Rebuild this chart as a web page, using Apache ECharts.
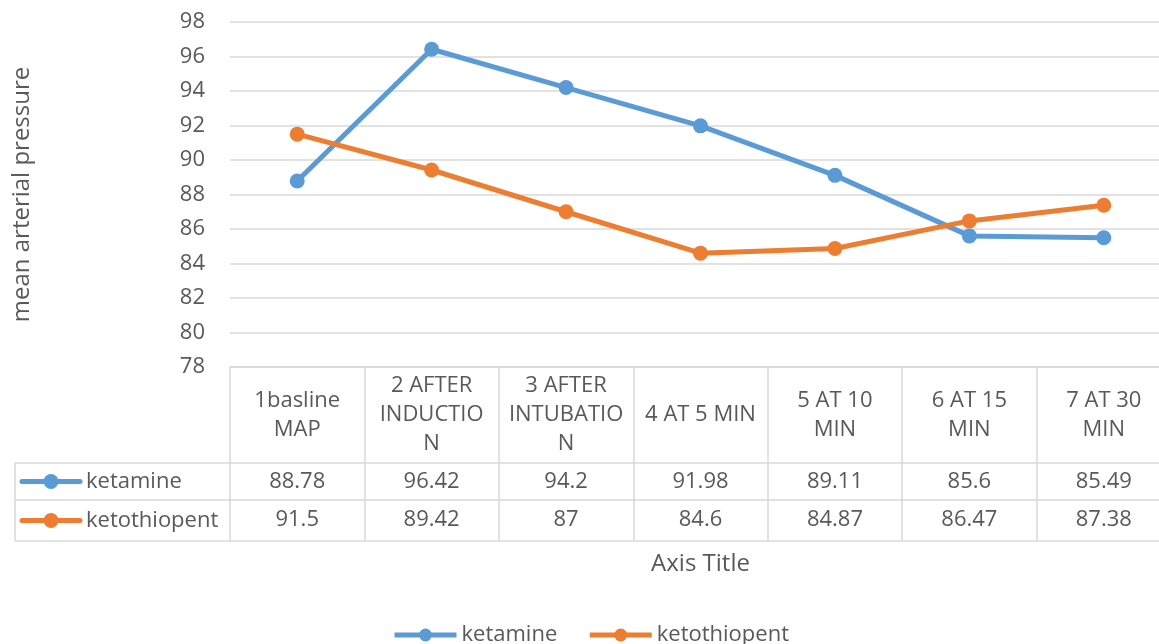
<!DOCTYPE html>
<html><head><meta charset="utf-8">
<script src="https://cdn.jsdelivr.net/npm/echarts@6/dist/echarts.min.js"></script>
<style>html,body{margin:0;padding:0;background:#fff;overflow:hidden}#c{width:1159px;height:644px}</style>
</head><body><div id="c"></div>
<script>
const categories = ['1basline\nMAP', '2 AFTER\nINDUCTIO\nN', '3 AFTER\nINTUBATIO\nN', '4 AT 5 MIN', '5 AT 10\nMIN', '6 AT 15\nMIN', '7 AT 30\nMIN'];
const seriesNames = ['ketamine', 'ketothiopent'];
const ketamine = [88.78, 96.42, 94.2, 91.98, 89.11, 85.6, 85.49];
const ketothiopent = [91.5, 89.42, 87, 84.6, 84.87, 86.47, 87.38];
const yTicks = [78, 80, 82, 84, 86, 88, 90, 92, 94, 96, 98];

const FONT = 'Open Sans';
const TXT = '#595959';
const GRID = '#D9D9D9';
const COLORS = ['#5B9BD5', '#ED7D31'];
const L = 230, T = 22, W = 941, AX = 367;
const ROW1 = 463, ROW2 = 500, ROW3 = 541, TL = 15;
const FS = 22, TFS = 24;

const chart = echarts.init(document.getElementById('c'));
const lbl = {fontFamily: FONT, fontSize: FS, color: TXT};

function rowHeader(name, color, yc) {
  return {type: 'group', children: [
    {type: 'line', shape: {x1: 22, y1: yc, x2: 80, y2: yc}, style: {stroke: color, lineWidth: 5, lineCap: 'round'}},
    {type: 'circle', shape: {cx: 51, cy: yc, r: 7.5}, style: {fill: color}},
    {type: 'text', x: 86, y: yc, style: {text: name, fontFamily: FONT, fontSize: FS, fill: TXT, verticalAlign: 'middle'}}
  ]};
}
function hline(y, x1, x2) {
  return {type: 'line', shape: {x1: x1, y1: y, x2: x2, y2: y}, style: {stroke: GRID, lineWidth: 1.5}};
}

chart.setOption({
  animation: false,
  grid: {left: L, top: T, width: W, height: AX - T, outerBoundsMode: 'none', containLabel: false},
  xAxis: [
    {type: 'category', data: categories, boundaryGap: true,
     axisLine: {show: true, lineStyle: {color: GRID, width: 1.5}},
     axisTick: {show: true, interval: 0, length: ROW3 - AX, lineStyle: {color: GRID, width: 1.5}},
     axisLabel: Object.assign({interval: 0, lineHeight: 29, verticalAlign: 'middle', margin: 48, hideOverlap: false}, lbl),
     name: 'Axis Title', nameLocation: 'middle', nameGap: 185,
     nameTextStyle: {fontFamily: FONT, fontSize: TFS, color: TXT}},
    {type: 'category', data: ketamine.map(String), position: 'bottom', offset: ROW1 - AX,
     axisLine: {show: true, lineStyle: {color: GRID, width: 1.5}}, axisTick: {show: false},
     axisLabel: Object.assign({interval: 0, verticalAlign: 'middle', margin: 19}, lbl)},
    {type: 'category', data: ketothiopent.map(String), position: 'bottom', offset: ROW2 - AX,
     axisLine: {show: true, lineStyle: {color: GRID, width: 1.5}}, axisTick: {show: false},
     axisLabel: Object.assign({interval: 0, verticalAlign: 'middle', margin: 20}, lbl)},
    {type: 'category', data: categories.map(() => ''), position: 'bottom', offset: ROW3 - AX,
     axisLine: {show: true, lineStyle: {color: GRID, width: 1.5}}, axisTick: {show: false},
     axisLabel: {show: false}}
  ],
  yAxis: {type: 'value', min: yTicks[0], max: yTicks[yTicks.length - 1], interval: 2,
    axisLine: {show: false}, axisTick: {show: false},
    splitLine: {lineStyle: {color: GRID, width: 1.5}},
    axisLabel: Object.assign({margin: 25}, lbl),
    name: 'mean arterial pressure', nameLocation: 'middle', nameGap: 196,
    nameTextStyle: {fontFamily: FONT, fontSize: TFS, color: TXT}},
  legend: {top: 624, left: 392, padding: 0, itemGap: 30,
    itemWidth: 62, itemHeight: 16, textStyle: {fontFamily: FONT, fontSize: FS, color: TXT},
    lineStyle: {width: 5}, data: seriesNames},
  series: [
    {name: seriesNames[0], type: 'line', data: ketamine, color: COLORS[0], symbol: 'circle', symbolSize: 15,
     lineStyle: {width: 5}, xAxisIndex: 0},
    {name: seriesNames[1], type: 'line', data: ketothiopent, color: COLORS[1], symbol: 'circle', symbolSize: 15,
     lineStyle: {width: 5}, xAxisIndex: 0}
  ],
  graphic: [
    hline(ROW1, TL, L), hline(ROW2, TL, L), hline(ROW3, TL, L),
    {type: 'line', shape: {x1: TL, y1: ROW1, x2: TL, y2: ROW3}, style: {stroke: GRID, lineWidth: 1.5}},
    rowHeader(seriesNames[0], COLORS[0], (ROW1 + ROW2) / 2),
    rowHeader(seriesNames[1], COLORS[1], (ROW2 + ROW3) / 2)
  ]
});
</script></body></html>
